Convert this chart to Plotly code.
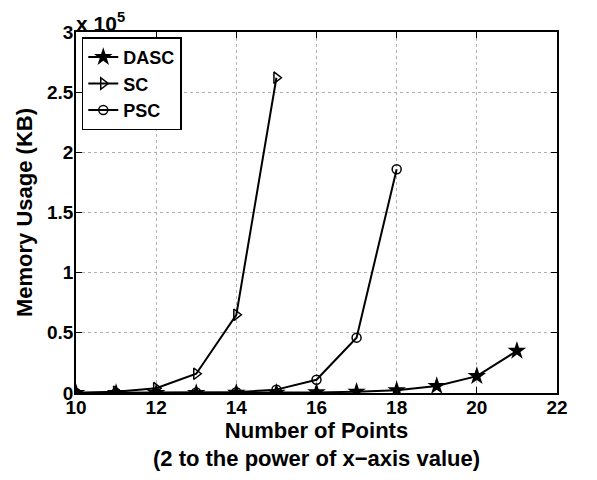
import plotly.graph_objects as go

dasc_x = list(range(10, 22))
dasc_y = [8, 15, 30, 60, 120, 250, 500, 1100, 2300, 5800, 14000, 35000]
sc_x = list(range(10, 16))
sc_y = [250, 1000, 4000, 16000, 65000, 262000]
psc_x = list(range(10, 19))
psc_y = [40, 90, 180, 350, 700, 2800, 11000, 46000, 186000]

FONT = "Liberation Sans"

fig = go.Figure()
fig.add_trace(go.Scatter(x=dasc_x, y=dasc_y, name="DASC", mode="lines+markers",
                         line=dict(color="black", width=2),
                         marker=dict(symbol="star", size=14, color="black")))
fig.add_trace(go.Scatter(x=sc_x, y=sc_y, name="SC", mode="lines+markers",
                         line=dict(color="black", width=2),
                         marker=dict(symbol="triangle-right-open", size=10, color="black",
                                     line=dict(width=1.5))))
fig.add_trace(go.Scatter(x=psc_x, y=psc_y, name="PSC", mode="lines+markers",
                         line=dict(color="black", width=2),
                         marker=dict(symbol="circle-open", size=9, color="black",
                                     line=dict(width=1.5))))

axis_common = dict(showline=True, linecolor="black", linewidth=1.5, mirror="ticks",
                   ticks="inside", ticklen=6, tickcolor="black", tickwidth=1,
                   showgrid=True, gridcolor="#b0b0b0", griddash="dot", gridwidth=1,
                   zeroline=False,
                   tickfont=dict(family=FONT, size=19, color="black", weight="bold"))

fig.update_layout(
    width=597, height=480,
    margin=dict(l=76, r=40, t=32, b=87),
    paper_bgcolor="white", plot_bgcolor="white",
    font=dict(family=FONT, color="black", weight="bold"),
    xaxis=dict(range=[10, 22], tickvals=[10, 12, 14, 16, 18, 20, 22],
               ticklabelstandoff=-4,
               title=dict(text="Number of Points<br>(2 to the power of x−axis value)",
                          font=dict(family=FONT, size=22, color="black", weight="bold"),
                          standoff=0),
               **axis_common),
    yaxis=dict(range=[0, 300000], tickvals=[0, 50000, 100000, 150000, 200000, 250000, 300000],
               ticktext=["0", "0.5", "1", "1.5", "2", "2.5", "3"],
               ticklabelstandoff=-3,
               title=dict(text="Memory Usage (KB)",
                          font=dict(family=FONT, size=22, color="black", weight="bold"),
                          standoff=8),
               **axis_common),
    legend=dict(x=0.012, y=0.985, xanchor="left", yanchor="top",
                bordercolor="black", borderwidth=1.5, bgcolor="white",
                font=dict(family=FONT, size=18, color="black", weight="bold"),
                tracegroupgap=0, itemwidth=30),
    showlegend=True,
    annotations=[dict(x=0, y=1, xref="paper", yref="paper", xanchor="left", yanchor="bottom",
                      text="x 10<sup>5</sup>", showarrow=False, xshift=-2, yshift=-5,
                      font=dict(family=FONT, size=21, color="black", weight="bold"))],
)

fig.write_html("out.html")
